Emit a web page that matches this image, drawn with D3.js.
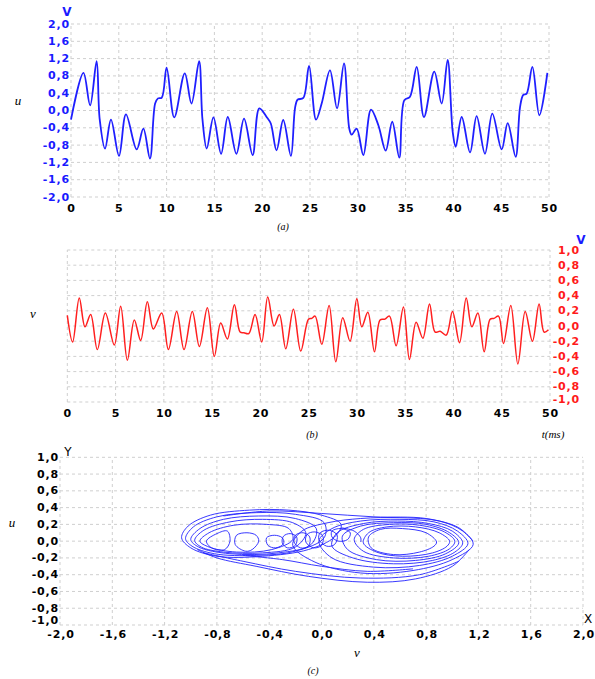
<!DOCTYPE html>
<html><head><meta charset="utf-8">
<script src="https://cdn.jsdelivr.net/npm/d3@7"></script>
<style>body{margin:0;background:#fff}svg{display:block}</style>
</head><body>
<svg id="chart" width="595" height="679"></svg>
<script>
// ---- Panel (a): u(t) ----
const uTime = [0,1.3,2.0,2.68,3.0,3.56,4.18,5.02,5.75,6.87,7.57,8.26,8.8,9.1,9.5,10.0,10.8,11.9,12.6,13.4,13.75,14.2,14.9,15.7,16.4,17.3,18.1,19.0,19.7,20.5,20.9,21.5,22.2,23.0,23.43,23.7,24.3,24.9,25.63,26.22,27.09,27.83,28.56,29.11,29.36,29.88,30.58,31.38,32.15,32.92,33.6,34.34,34.87,35.46,36.16,36.92,38.0,38.77,39.4,39.93,40.24,40.87,41.74,42.43,43.3,44.07,45.05,45.68,46.51,46.97,47.31,47.66,48.26,48.99,49.83];
const uValues = [-0.21,0.87,0.12,1.14,-0.2,-0.88,-0.21,-1.05,-0.09,-0.9,-0.42,-1.11,0.16,0.28,0.3,0.99,-0.16,0.86,0.16,1.14,-0.2,-0.88,-0.16,-1.0,-0.15,-1.0,-0.19,-1.03,0.05,-0.16,-0.3,-0.92,-0.22,-1.05,0.05,0.25,0.29,1.03,-0.21,0.16,0.93,0.05,1.09,-0.42,-0.56,-0.42,-1.03,0.02,-0.34,-0.93,-0.26,-1.09,0.24,0.32,1.01,-0.15,0.9,0.16,1.17,-0.5,-0.84,-0.15,-0.97,-0.13,-1.0,-0.07,-0.9,-0.29,-1.07,0.08,0.36,0.39,1.01,-0.11,0.87];
const uTicks = [-2.0,-1.6,-1.2,-0.8,-0.4,0.0,0.4,0.8,1.2,1.6,2.0];
const timeTicks = [0,5,10,15,20,25,30,35,40,45,50];

// ---- Panel (b): v(t) ----
const vTime = [0,0.55,1.24,1.83,2.42,3.11,3.94,4.87,5.53,6.22,6.94,7.6,8.29,8.91,9.78,10.47,11.33,12.09,12.95,13.68,14.51,15.23,15.89,16.58,17.31,17.9,18.3,18.8,19.45,20.14,20.76,21.42,21.97,22.63,23.42,24.18,24.98,25.32,25.67,26.36,27.12,27.81,28.53,29.29,29.99,30.5,31.13,31.82,32.4,32.9,33.37,34.06,34.82,35.44,36.13,36.83,37.52,38.1,38.62,39.25,39.9,40.63,41.32,41.9,42.53,43.18,43.8,44.2,44.67,45.18,45.94,46.67,47.43,48.18,48.87,49.39,49.84];
const vValues = [0.14,-0.21,0.37,-0.01,0.15,-0.31,0.17,-0.25,0.26,-0.45,0.08,-0.19,0.32,-0.04,0.17,-0.31,0.19,-0.31,0.19,-0.27,0.24,-0.40,0.04,-0.17,0.28,-0.08,-0.09,-0.10,0.15,-0.21,0.38,0.0,0.15,-0.30,0.22,-0.33,0.09,0.10,0.13,-0.24,0.27,-0.47,0.11,-0.20,0.36,-0.01,0.18,-0.34,0.08,0.09,0.13,-0.26,0.25,-0.44,0.05,-0.16,0.29,-0.08,-0.07,-0.12,0.19,-0.22,0.37,-0.01,0.17,-0.34,0.09,0.10,0.13,-0.23,0.27,-0.50,0.19,-0.20,0.29,-0.08,-0.05];
const vTicks = [-1.0,-0.8,-0.6,-0.4,-0.2,0.0,0.2,0.4,0.6,0.8,1.0];

// ---- Panel (c): phase portrait, closed loops and open arcs as [x, y] ----
const leftLoops = [
  [[-1.07,0.04],[-1.02,0.18],[-0.85,0.31],[-0.55,0.37],[-0.25,0.37],[0.0,0.31],[0.15,0.2],[0.1,0.05],[-0.1,-0.1],[-0.45,-0.18],[-0.8,-0.18],[-1.0,-0.08]],
  [[-1.04,0.03],[-0.98,0.17],[-0.8,0.29],[-0.5,0.34],[-0.2,0.32],[0.02,0.22],[0.02,0.04],[-0.2,-0.12],[-0.5,-0.17],[-0.82,-0.15],[-0.99,-0.06]],
  [[-1.0,0.02],[-0.93,0.15],[-0.75,0.26],[-0.48,0.3],[-0.2,0.27],[-0.04,0.15],[-0.08,-0.04],[-0.33,-0.14],[-0.7,-0.15],[-0.94,-0.07]],
  [[-0.97,0.01],[-0.9,0.13],[-0.7,0.23],[-0.45,0.26],[-0.22,0.22],[-0.12,0.1],[-0.2,-0.07],[-0.45,-0.14],[-0.75,-0.13],[-0.92,-0.07]],
  [[-0.93,0.0],[-0.86,0.1],[-0.67,0.19],[-0.42,0.2],[-0.25,0.15],[-0.22,0.02],[-0.38,-0.1],[-0.65,-0.13],[-0.86,-0.07]],
  [[-0.88,0.0],[-0.8,0.09],[-0.72,0.12],[-0.7,0.0],[-0.74,-0.1],[-0.84,-0.08]]
];
const rightLoops = [
  [[1.16,-0.04],[1.08,0.12],[0.9,0.24],[0.6,0.28],[0.3,0.27],[0.05,0.22],[-0.15,0.12],[-0.22,-0.05],[-0.05,-0.25],[0.3,-0.38],[0.7,-0.35],[1.0,-0.22]],
  [[1.12,-0.03],[1.04,0.12],[0.86,0.23],[0.6,0.26],[0.3,0.24],[0.08,0.15],[-0.02,0.0],[0.08,-0.2],[0.4,-0.31],[0.75,-0.29],[1.0,-0.18]],
  [[1.08,-0.02],[1.0,0.12],[0.82,0.21],[0.58,0.24],[0.32,0.21],[0.12,0.1],[0.08,-0.06],[0.24,-0.2],[0.55,-0.27],[0.85,-0.23],[1.02,-0.13]],
  [[1.05,-0.02],[0.98,0.1],[0.8,0.2],[0.55,0.22],[0.3,0.18],[0.16,0.06],[0.2,-0.1],[0.42,-0.22],[0.72,-0.23],[0.95,-0.15]],
  [[1.02,0.0],[0.94,0.11],[0.75,0.19],[0.52,0.2],[0.32,0.14],[0.25,0.02],[0.32,-0.12],[0.55,-0.2],[0.82,-0.18],[0.98,-0.09]],
  [[0.98,0.0],[0.9,0.1],[0.72,0.17],[0.5,0.17],[0.36,0.1],[0.32,-0.02],[0.42,-0.13],[0.62,-0.18],[0.85,-0.14],[0.96,-0.06]],
  [[0.88,-0.01],[0.8,0.1],[0.62,0.15],[0.45,0.14],[0.36,0.05],[0.38,-0.08],[0.55,-0.16],[0.75,-0.13],[0.86,-0.06]]
];
const crossArcs = [
  [[-0.95,-0.1],[-0.8,-0.2],[-0.5,-0.3],[-0.1,-0.42],[0.35,-0.49],[0.72,-0.45],[1.0,-0.3],[1.13,-0.1]],
  [[-0.9,-0.14],[-0.6,-0.24],[-0.2,-0.36],[0.3,-0.44],[0.75,-0.4],[1.05,-0.24]],
  [[-0.75,0.3],[-0.4,0.36],[0.0,0.33],[0.4,0.29],[0.8,0.27],[1.05,0.16],[1.16,0.0]],
  [[-0.6,-0.17],[-0.3,-0.22],[0.0,-0.3],[0.35,-0.36],[0.7,-0.33]]
];
const smallLoops = [
  [[-0.65,0.07],[-0.57,0.1],[-0.5,0.07],[-0.48,0.0],[-0.53,-0.1],[-0.58,-0.12],[-0.66,-0.04]],
  [[-0.42,0.04],[-0.36,0.07],[-0.3,0.04],[-0.29,-0.03],[-0.35,-0.08],[-0.41,-0.05]],
  [[-0.29,0.06],[-0.24,0.09],[-0.19,0.05],[-0.2,-0.05],[-0.26,-0.08],[-0.3,-0.02]],
  [[-0.2,0.07],[-0.14,0.1],[-0.09,0.05],[-0.1,-0.06],[-0.16,-0.08],[-0.21,-0.01]],
  [[-0.11,0.08],[-0.05,0.11],[0.01,0.06],[0.0,-0.05],[-0.06,-0.08],[-0.12,-0.01]],
  [[-0.01,0.1],[0.06,0.13],[0.12,0.07],[0.1,-0.04],[0.04,-0.06],[-0.02,0.02]],
  [[0.08,0.12],[0.15,0.15],[0.22,0.1],[0.2,0.02],[0.13,0.0],[0.08,0.05]]
];
const tailArc = [[0.15,0.16],[0.25,0.12],[0.3,0.04],[0.3,-0.01]];
const xTicksC = [-2.0,-1.6,-1.2,-0.8,-0.4,0.0,0.4,0.8,1.2,1.6,2.0];
const yTicksC = [-1.0,-0.8,-0.6,-0.4,-0.2,0.0,0.2,0.4,0.6,0.8,1.0];

const svg = d3.select("#chart");
const fmt = v => d3.format(".1f")(v).replace(".", ",").replace("−","-");
const tickFont = "DejaVu Sans, Verdana, sans-serif";
const gridColor = "#cfcfcf";

function grid(g, xs, ys, xTicks, yTicks) {
  g.selectAll(null).data(xTicks).enter().append("line")
    .attr("x1", d => xs(d)).attr("x2", d => xs(d))
    .attr("y1", ys.range()[0]).attr("y2", ys.range()[1])
    .attr("stroke", gridColor).attr("stroke-dasharray", "3,3");
  g.selectAll(null).data(yTicks).enter().append("line")
    .attr("y1", d => ys(d)).attr("y2", d => ys(d))
    .attr("x1", xs.range()[0]).attr("x2", xs.range()[1])
    .attr("stroke", gridColor).attr("stroke-dasharray", "3,3");
}
function labels(g, data, xf, yf, txt, anchor, color) {
  g.selectAll(null).data(data).enter().append("text")
    .attr("x", xf).attr("y", yf).text(txt)
    .attr("text-anchor", anchor).attr("dominant-baseline", "central")
    .attr("font-family", tickFont).attr("font-weight", "bold")
    .attr("font-size", 11).attr("letter-spacing", "0.8px")
    .attr("fill", color);
}
function italic(x, y, t, size) {
  svg.append("text").attr("x", x).attr("y", y).text(t)
    .attr("text-anchor", "middle").attr("dominant-baseline", "central")
    .attr("font-family", "Liberation Serif, Times New Roman, serif")
    .attr("font-style", "italic").attr("font-size", size).attr("fill", "#000");
}

// Panel (a)
{
  const x = d3.scaleLinear().domain([0, 50]).range([71, 549]);
  const y = d3.scaleLinear().domain([-2, 2]).range([197, 24]);
  const g = svg.append("g");
  grid(g, x, y, timeTicks, uTicks);
  labels(g, uTicks, () => 70, d => y(d), fmt, "end", "#1a1aff");
  labels(g, timeTicks, d => x(d) + 0.5, 208, d => d, "middle", "#000");
  const line = d3.line().x((d, i) => x(uTime[i])).y(d => y(d)).curve(d3.curveCatmullRom.alpha(0.5));
  g.append("path").attr("d", line(uValues)).attr("fill", "none")
    .attr("stroke", "#1f1fff").attr("stroke-width", 1.8);
  svg.append("text").attr("x", 67).attr("y", 12).text("V").attr("text-anchor", "middle")
    .attr("dominant-baseline", "central").attr("font-family", tickFont).attr("font-weight", "bold")
    .attr("font-size", 12).attr("fill", "#1a1aff");
  italic(18, 100, "u", 13);
  italic(283, 226, "(a)", 10);
}

// Panel (b)
{
  const x = d3.scaleLinear().domain([0, 50]).range([67.3, 550]);
  const y = d3.scaleLinear().domain([-1, 1]).range([402, 250]);
  const g = svg.append("g");
  grid(g, x, y, timeTicks, vTicks);
  labels(g, vTicks, () => 580, d => y(d) - (d === -1 ? 3 : 0), fmt, "end", "#ff1a1a");
  labels(g, timeTicks, d => x(d) + 0.5, 413, d => d, "middle", "#000");
  const line = d3.line().x((d, i) => x(vTime[i])).y(d => y(d)).curve(d3.curveCatmullRom.alpha(0.5));
  g.append("path").attr("d", line(vValues)).attr("fill", "none")
    .attr("stroke", "#ff1f1f").attr("stroke-width", 1.5);
  svg.append("text").attr("x", 581).attr("y", 240).text("V").attr("text-anchor", "middle")
    .attr("dominant-baseline", "central").attr("font-family", tickFont).attr("font-weight", "bold")
    .attr("font-size", 12).attr("fill", "#1a1aff");
  italic(33, 313, "v", 13);
  italic(312, 434, "(b)", 10);
  italic(553, 434, "t(ms)", 11);
}

// Panel (c)
{
  const x = d3.scaleLinear().domain([-2, 2]).range([60, 583]);
  const y = d3.scaleLinear().domain([-1, 1]).range([625, 457.3]);
  const g = svg.append("g");
  grid(g, x, y, xTicksC, yTicksC);
  labels(g, yTicksC, () => 59, d => y(d) - (d === -1 ? 4.5 : 0), fmt, "end", "#000");
  labels(g, xTicksC, d => x(d) + 1, 634.5, fmt, "middle", "#000");
  const closed = d3.line().x(d => x(d[0])).y(d => y(d[1])).curve(d3.curveCatmullRomClosed.alpha(0.5));
  const open = d3.line().x(d => x(d[0])).y(d => y(d[1])).curve(d3.curveCatmullRom.alpha(0.5));
  const st = p => p.attr("fill", "none").attr("stroke", "#2323ff").attr("stroke-width", 0.9);
  [...leftLoops, ...rightLoops, ...smallLoops].forEach(l => st(g.append("path").attr("d", closed(l))));
  [...crossArcs, tailArc].forEach(l => st(g.append("path").attr("d", open(l))));
  svg.append("text").attr("x", 68).attr("y", 452).text("Y").attr("text-anchor", "middle")
    .attr("dominant-baseline", "central").attr("font-family", tickFont).attr("font-size", 12).attr("fill", "#000");
  svg.append("text").attr("x", 588).attr("y", 619).text("X").attr("text-anchor", "middle")
    .attr("dominant-baseline", "central").attr("font-family", tickFont).attr("font-size", 12).attr("fill", "#000");
  italic(12, 522, "u", 13);
  italic(357, 652, "v", 13);
  italic(313, 670, "(c)", 10);
}
</script>
</body></html>
